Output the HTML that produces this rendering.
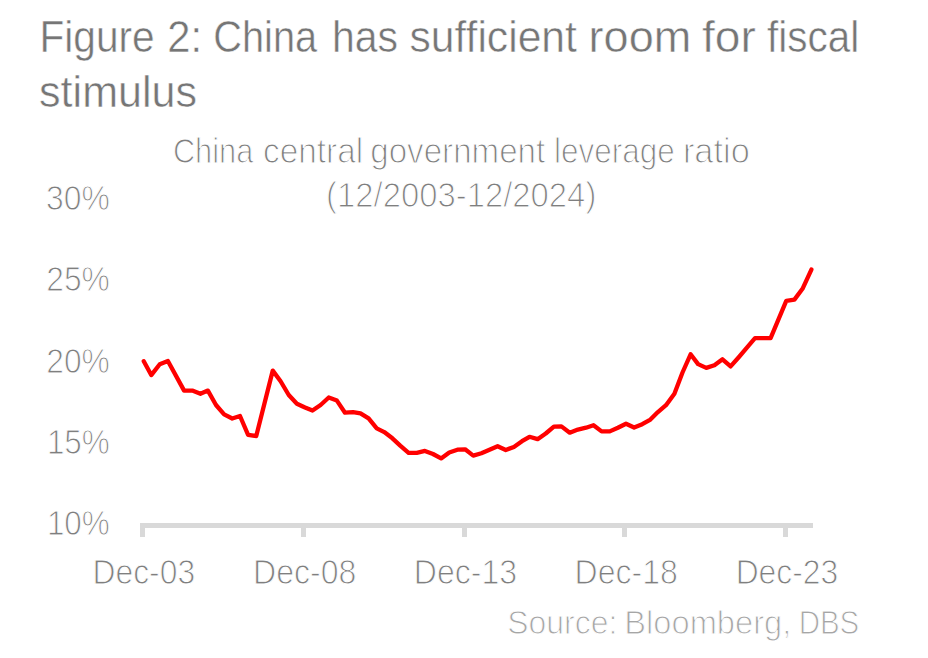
<!DOCTYPE html>
<html><head><meta charset="utf-8"><style>
html,body{margin:0;padding:0;background:#fff;}
body{width:928px;height:658px;overflow:hidden;}
svg{display:block;}
text{font-family:"Liberation Sans", sans-serif;}
</style></head><body>
<svg width="928" height="658" viewBox="0 0 928 658">
<rect width="928" height="658" fill="#fff"/>
<text x="39.53" y="52" font-size="44" fill="#767676" stroke="#fff" stroke-width="0.5" textLength="115.06" lengthAdjust="spacingAndGlyphs">Figure</text>
<text x="167.35" y="52" font-size="44" fill="#767676" stroke="#fff" stroke-width="0.5" textLength="34.83" lengthAdjust="spacingAndGlyphs">2:</text>
<text x="213.3" y="52" font-size="44" fill="#767676" stroke="#fff" stroke-width="0.5" textLength="103.84" lengthAdjust="spacingAndGlyphs">China</text>
<text x="331.92" y="52" font-size="44" fill="#767676" stroke="#fff" stroke-width="0.5" textLength="66.04" lengthAdjust="spacingAndGlyphs">has</text>
<text x="409.46" y="52" font-size="44" fill="#767676" stroke="#fff" stroke-width="0.5" textLength="167.47" lengthAdjust="spacingAndGlyphs">sufficient</text>
<text x="588.6" y="52" font-size="44" fill="#767676" stroke="#fff" stroke-width="0.5" textLength="102.64" lengthAdjust="spacingAndGlyphs">room</text>
<text x="701.96" y="52" font-size="44" fill="#767676" stroke="#fff" stroke-width="0.5" textLength="53.83" lengthAdjust="spacingAndGlyphs">for</text>
<text x="767.08" y="52" font-size="44" fill="#767676" stroke="#fff" stroke-width="0.5" textLength="92.11" lengthAdjust="spacingAndGlyphs">fiscal</text>
<text x="39.09" y="107" font-size="44" fill="#767676" stroke="#fff" stroke-width="0.5" textLength="157.89" lengthAdjust="spacingAndGlyphs">stimulus</text>
<text x="172.88" y="163" font-size="34.5" fill="#7f7f7f" stroke="#fff" stroke-width="1.1" textLength="80.46" lengthAdjust="spacingAndGlyphs">China</text>
<text x="262.97" y="163" font-size="34.5" fill="#7f7f7f" stroke="#fff" stroke-width="1.1" textLength="100.17" lengthAdjust="spacingAndGlyphs">central</text>
<text x="370.25" y="163" font-size="34.5" fill="#7f7f7f" stroke="#fff" stroke-width="1.1" textLength="174.96" lengthAdjust="spacingAndGlyphs">government</text>
<text x="554.04" y="163" font-size="34.5" fill="#7f7f7f" stroke="#fff" stroke-width="1.1" textLength="120.65" lengthAdjust="spacingAndGlyphs">leverage</text>
<text x="682.91" y="163" font-size="34.5" fill="#7f7f7f" stroke="#fff" stroke-width="1.1" textLength="66.89" lengthAdjust="spacingAndGlyphs">ratio</text>
<text x="326.09" y="207" font-size="34.5" fill="#7f7f7f" stroke="#fff" stroke-width="1.1" textLength="270.24" lengthAdjust="spacingAndGlyphs">(12/2003-12/2024)</text>
<text x="46.1" y="210" font-size="34.5" fill="#7f7f7f" stroke="#fff" stroke-width="1.0" textLength="63.8" lengthAdjust="spacingAndGlyphs">30%</text>
<text x="46.29" y="291" font-size="34.5" fill="#7f7f7f" stroke="#fff" stroke-width="1.0" textLength="63.6" lengthAdjust="spacingAndGlyphs">25%</text>
<text x="46.29" y="373" font-size="34.5" fill="#7f7f7f" stroke="#fff" stroke-width="1.0" textLength="63.6" lengthAdjust="spacingAndGlyphs">20%</text>
<text x="46.89" y="454" font-size="34.5" fill="#7f7f7f" stroke="#fff" stroke-width="1.0" textLength="62.98" lengthAdjust="spacingAndGlyphs">15%</text>
<text x="46.89" y="535" font-size="34.5" fill="#7f7f7f" stroke="#fff" stroke-width="1.0" textLength="62.98" lengthAdjust="spacingAndGlyphs">10%</text>
<text x="92.48" y="584" font-size="34.8" fill="#7f7f7f" stroke="#fff" stroke-width="1.0" textLength="102.67" lengthAdjust="spacingAndGlyphs">Dec-03</text>
<text x="253.11" y="584" font-size="34.8" fill="#7f7f7f" stroke="#fff" stroke-width="1.0" textLength="103.32" lengthAdjust="spacingAndGlyphs">Dec-08</text>
<text x="413.81" y="584" font-size="34.8" fill="#7f7f7f" stroke="#fff" stroke-width="1.0" textLength="103.3" lengthAdjust="spacingAndGlyphs">Dec-13</text>
<text x="574.56" y="584" font-size="34.8" fill="#7f7f7f" stroke="#fff" stroke-width="1.0" textLength="103.27" lengthAdjust="spacingAndGlyphs">Dec-18</text>
<text x="735.63" y="584" font-size="34.8" fill="#7f7f7f" stroke="#fff" stroke-width="1.0" textLength="102.67" lengthAdjust="spacingAndGlyphs">Dec-23</text>
<text x="507.27" y="634" font-size="32.5" fill="#a6a6a6" stroke="#fff" stroke-width="1.0" textLength="110.0" lengthAdjust="spacingAndGlyphs">Source:</text>
<text x="624.25" y="634" font-size="32.5" fill="#a6a6a6" stroke="#fff" stroke-width="1.0" textLength="167.06" lengthAdjust="spacingAndGlyphs">Bloomberg,</text>
<text x="798.66" y="634" font-size="32.5" fill="#a6a6a6" stroke="#fff" stroke-width="1.0" textLength="60.63" lengthAdjust="spacingAndGlyphs">DBS</text>
<g fill="#d9d9d9">
<rect x="140" y="523" width="673" height="5"/>
<rect x="140" y="523" width="5" height="14"/>
<rect x="301" y="523" width="5" height="14"/>
<rect x="462" y="523" width="5" height="14"/>
<rect x="622" y="523" width="5" height="14"/>
<rect x="783" y="523" width="5" height="14"/>
</g>
<path d="M143.75,361.15 L151.25,375.10 L159.75,364.20 L167.90,361.00 L184.10,390.60 L192.25,390.60 L200.40,393.75 L207.90,390.60 L216.00,405.00 L224.10,414.40 L232.25,418.50 L240.00,416.00 L248.10,434.80 L256.25,436.00 L272.75,370.60 L280.60,381.25 L288.75,395.00 L296.90,403.75 L305.00,407.50 L312.50,410.60 L320.60,405.00 L328.75,397.50 L336.90,400.60 L345.00,412.70 L353.10,412.05 L360.50,413.30 L368.60,418.30 L376.75,428.30 L384.25,432.05 L392.40,438.30 L400.50,445.80 L408.60,452.80 L416.75,452.80 L424.90,450.90 L433.00,454.00 L441.10,458.40 L449.25,452.45 L457.40,449.70 L465.10,449.30 L473.25,455.60 L481.40,453.30 L489.50,449.75 L497.60,446.20 L505.75,450.00 L513.90,446.90 L522.00,441.20 L529.50,436.80 L537.60,439.15 L545.75,433.50 L553.90,426.60 L561.40,426.40 L569.75,432.70 L577.90,429.55 L586.00,427.70 L593.50,425.20 L601.60,431.40 L609.75,431.40 L617.90,427.70 L626.00,423.70 L634.10,427.50 L642.25,424.15 L650.40,419.55 L657.90,412.05 L666.00,405.20 L674.40,393.70 L682.50,372.50 L690.60,354.30 L698.10,364.15 L706.25,367.90 L714.40,365.20 L722.50,359.30 L730.60,366.40 L738.75,357.20 L746.90,347.70 L755.00,338.20 L762.50,338.20 L770.60,338.20 L786.25,300.80 L794.40,299.65 L802.50,288.80 L811.40,269.55" fill="none" stroke="#ff0000" stroke-width="4.3" stroke-linejoin="round" stroke-linecap="round"/>
</svg>
</body></html>
